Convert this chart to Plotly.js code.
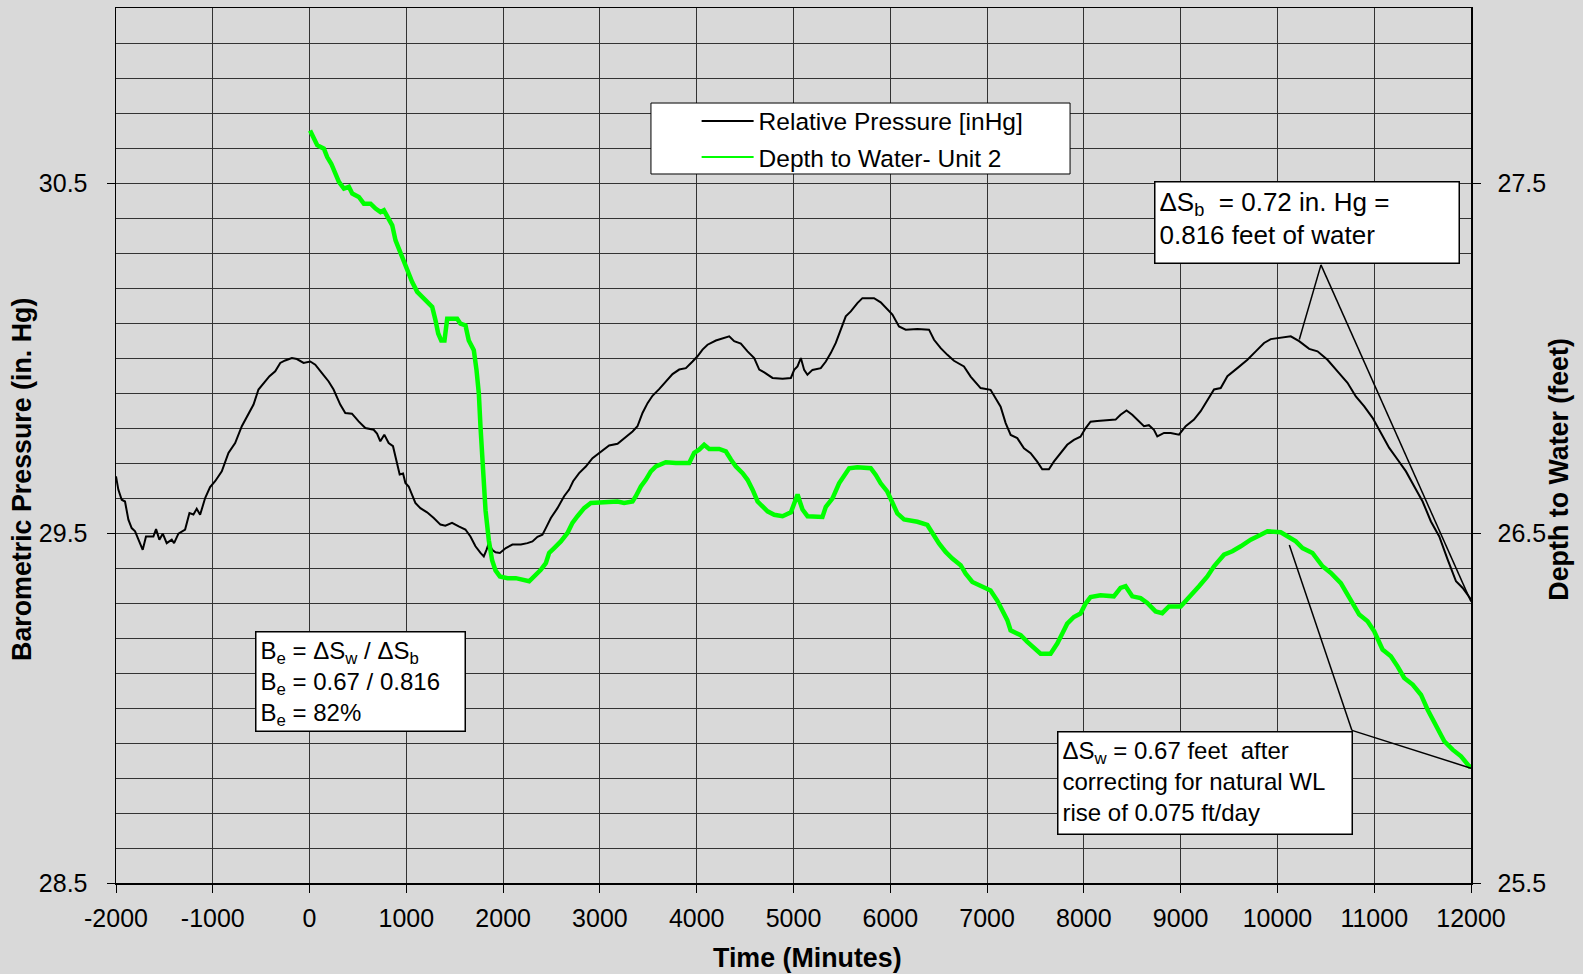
<!DOCTYPE html>
<html>
<head>
<meta charset="utf-8">
<script src="https://cdn.plot.ly/plotly-3.0.1.min.js"></script>
<style>
  html, body { margin: 0; padding: 0; background: #d9d9d9; }
  #chart { width: 1583px; height: 974px; }
</style>
</head>
<body>
<div id="chart"></div>
<script>
// ---- Data ----
const pressureName = "Relative Pressure [inHg]";
const depthName = "Depth to Water- Unit 2";

const xTickVals = [-2000,-1000,0,1000,2000,3000,4000,5000,6000,7000,8000,9000,10000,11000,12000];
const xTickText = ["-2000","-1000","0","1000","2000","3000","4000","5000","6000","7000","8000","9000","10000","11000","12000"];

const pressureTime = [-2000,-1976,-1941,-1907,-1872,-1838,-1803,-1752,-1724,-1690,-1614,-1586,-1552,-1517,-1476,-1424,-1400,-1355,-1286,-1241,-1200,-1166,-1131,-1079,-1028,-976,-907,-838,-769,-700,-631,-579,-528,-476,-414,-355,-303,-252,-183,-131,-62,7,59,128,197,248,317,369,438,507,576,662,697,731,772,817,862,903,931,966,990,1024,1059,1093,1145,1214,1283,1352,1403,1472,1541,1610,1662,1714,1766,1800,1828,1852,1886,1921,1966,2028,2096,2183,2251,2303,2355,2406,2441,2493,2561,2630,2682,2723,2785,2854,2923,2992,3095,3182,3250,3337,3388,3440,3492,3543,3612,3681,3750,3819,3888,3957,4008,4060,4112,4198,4267,4336,4387,4456,4525,4594,4646,4698,4783,4887,4973,5007,5041,5076,5110,5144,5196,5282,5334,5385,5437,5488,5540,5592,5660,5712,5832,5901,5970,6022,6090,6159,6280,6400,6452,6521,6590,6658,6761,6830,6933,7036,7088,7140,7192,7244,7312,7381,7450,7518,7570,7639,7690,7759,7828,7897,7965,8017,8069,8137,8275,8328,8379,8441,8500,8569,8621,8672,8724,8759,8828,8897,8983,9052,9138,9207,9276,9345,9414,9483,9586,9690,9776,9862,9931,10034,10138,10224,10328,10414,10517,10621,10724,10810,10897,10983,11069,11155,11241,11328,11414,11500,11586,11672,11759,11845,11914,12000];

const pressure = [29.662,29.624,29.595,29.590,29.538,29.514,29.505,29.471,29.452,29.490,29.490,29.511,29.481,29.498,29.471,29.481,29.471,29.498,29.510,29.557,29.553,29.569,29.552,29.600,29.631,29.648,29.676,29.729,29.757,29.805,29.843,29.867,29.910,29.927,29.948,29.962,29.986,29.993,30.000,29.997,29.986,29.990,29.981,29.957,29.933,29.910,29.867,29.843,29.841,29.819,29.800,29.795,29.784,29.762,29.781,29.757,29.748,29.700,29.667,29.670,29.643,29.633,29.610,29.586,29.571,29.559,29.543,29.524,29.521,29.529,29.519,29.510,29.490,29.462,29.443,29.433,29.452,29.471,29.452,29.445,29.443,29.457,29.467,29.467,29.471,29.476,29.489,29.495,29.514,29.543,29.571,29.605,29.624,29.648,29.671,29.690,29.714,29.729,29.750,29.755,29.771,29.790,29.805,29.843,29.871,29.892,29.911,29.933,29.954,29.967,29.971,29.990,30.005,30.024,30.038,30.050,30.057,30.062,30.048,30.041,30.019,30.000,29.967,29.959,29.943,29.941,29.943,29.966,29.976,30.000,29.966,29.952,29.966,29.971,29.990,30.014,30.043,30.081,30.119,30.133,30.157,30.171,30.171,30.159,30.140,30.124,30.090,30.081,30.083,30.081,30.052,30.028,30.009,29.992,29.976,29.947,29.914,29.909,29.885,29.861,29.814,29.780,29.771,29.742,29.728,29.704,29.682,29.682,29.704,29.728,29.752,29.766,29.775,29.799,29.818,29.820,29.822,29.824,29.838,29.850,29.838,29.819,29.805,29.808,29.795,29.776,29.786,29.786,29.781,29.805,29.824,29.848,29.881,29.910,29.914,29.948,29.971,29.995,30.019,30.043,30.054,30.057,30.062,30.048,30.026,30.019,29.995,29.962,29.929,29.890,29.862,29.829,29.786,29.743,29.710,29.676,29.633,29.590,29.533,29.490,29.424,29.362,29.343,29.310];

const depthTime = [5,17,45,79,148,182,224,268,303,355,406,441,509,561,630,682,733,768,802,854,888,940,974,1009,1060,1112,1164,1215,1267,1301,1329,1360,1394,1422,1456,1525,1559,1611,1645,1697,1725,1749,1766,1794,1818,1852,1886,1921,1966,2045,2131,2269,2320,2389,2441,2475,2527,2596,2665,2716,2768,2837,2906,2992,3095,3182,3250,3337,3371,3423,3474,3526,3578,3681,3784,3922,3974,4025,4077,4129,4232,4301,4353,4405,4474,4525,4577,4629,4680,4732,4801,4887,4973,5007,5042,5059,5093,5145,5214,5299,5334,5403,5471,5523,5575,5660,5798,5850,5901,5970,6022,6073,6142,6280,6383,6435,6503,6572,6641,6727,6779,6848,6933,7036,7105,7157,7209,7243,7347,7416,7502,7553,7656,7725,7776,7828,7897,7965,8017,8069,8172,8310,8379,8431,8500,8586,8655,8741,8810,8879,9000,9052,9121,9190,9276,9345,9448,9534,9621,9724,9828,9897,10034,10103,10190,10259,10362,10466,10552,10655,10759,10845,10931,11000,11086,11172,11241,11310,11397,11483,11552,11638,11724,11810,11897,11983,12000];

const depth = [27.650,27.643,27.622,27.608,27.598,27.574,27.555,27.522,27.503,27.484,27.489,27.470,27.460,27.441,27.441,27.427,27.417,27.422,27.403,27.379,27.336,27.298,27.279,27.250,27.217,27.189,27.174,27.160,27.146,27.108,27.070,27.050,27.050,27.112,27.112,27.112,27.098,27.093,27.050,27.022,26.965,26.898,26.803,26.660,26.565,26.479,26.422,26.393,26.376,26.371,26.371,26.362,26.376,26.395,26.414,26.443,26.457,26.476,26.500,26.529,26.548,26.571,26.586,26.588,26.590,26.590,26.586,26.590,26.605,26.633,26.652,26.676,26.690,26.702,26.700,26.700,26.729,26.738,26.752,26.740,26.740,26.733,26.710,26.690,26.671,26.652,26.624,26.590,26.576,26.562,26.552,26.548,26.559,26.586,26.610,26.595,26.567,26.548,26.546,26.546,26.575,26.599,26.642,26.661,26.685,26.688,26.685,26.666,26.642,26.618,26.589,26.556,26.539,26.532,26.523,26.499,26.470,26.446,26.427,26.408,26.384,26.360,26.350,26.336,26.307,26.279,26.251,26.222,26.208,26.189,26.169,26.155,26.155,26.184,26.212,26.241,26.260,26.270,26.298,26.317,26.322,26.319,26.343,26.348,26.319,26.314,26.300,26.276,26.271,26.290,26.290,26.305,26.329,26.348,26.376,26.405,26.438,26.448,26.462,26.481,26.495,26.505,26.502,26.490,26.476,26.457,26.443,26.405,26.386,26.357,26.310,26.267,26.248,26.219,26.167,26.148,26.119,26.086,26.067,26.038,25.995,25.952,25.905,25.881,25.862,25.833,25.833];

const xTitle = "<b>Time (Minutes)</b>";
const yTitle = "<b>Barometric Pressure (in. Hg)</b>";
const y2Title = "<b>Depth to Water (feet)</b>";

const noteSb = "ΔS<sub>b</sub>&nbsp; = 0.72 in. Hg =<br>0.816 feet of water";
const noteBe = "B<sub>e</sub> = ΔS<sub>w</sub> / ΔS<sub>b</sub><br>B<sub>e</sub> = 0.67 / 0.816<br>B<sub>e</sub> = 82%";
const noteSw = "ΔS<sub>w</sub> = 0.67 feet&nbsp; after<br>correcting for natural WL<br>rise of 0.075 ft/day";

// ---- Styling ----
const FONT = "Liberation Sans, Arial, sans-serif";
const BG = "#d9d9d9";
const GRID = "#333333";
const GREEN = "#00ff00";

const traces = [
  {
    x: pressureTime, y: pressure, name: pressureName, type: "scatter", mode: "lines",
    line: { color: "#000000", width: 2 }, yaxis: "y", legend: "legend"
  },
  {
    x: depthTime, y: depth, name: depthName, type: "scatter", mode: "lines",
    line: { color: GREEN, width: 4.5 }, yaxis: "y2", showlegend: false
  },
  // legend-only entry (thin line sample, as in the reference legend)
  {
    x: [null], y: [null], name: depthName, type: "scatter", mode: "lines",
    line: { color: GREEN, width: 2 }, yaxis: "y2", legend: "legend2"
  }
];

const legendCommon = {
  bgcolor: "rgba(0,0,0,0)", borderwidth: 0,
  font: { family: FONT, size: 24.5, color: "#000" },
  xanchor: "left", yanchor: "middle", itemwidth: 52
};

const titleFont = { family: FONT, size: 26.8, color: "#000" };
const tickFont = { family: FONT, size: 25, color: "#000" };

const layout = {
  width: 1583, height: 974,
  paper_bgcolor: BG, plot_bgcolor: BG,
  margin: { l: 116, r: 112, t: 8, b: 91, pad: 0 },
  font: { family: FONT, color: "#000" },
  showlegend: true,
  legend: Object.assign({ x: 0.4285, y: 0.8709 }, legendCommon),
  legend2: Object.assign({ x: 0.4285, y: 0.8297 }, legendCommon),
  xaxis: {
    range: [-2000, 12000], tickmode: "array", tickvals: xTickVals, ticktext: xTickText,
    ticks: "outside", ticklen: 8, tickcolor: "#000", tickwidth: 1,
    showgrid: true, gridcolor: GRID, gridwidth: 1,
    showline: true, linecolor: "#000", linewidth: 1.5, mirror: true,
    zeroline: false,
    tickfont: tickFont,
    ticklabelstandoff: 4
  },
  yaxis: {
    range: [28.5, 31], tick0: 28.5, dtick: 1,
    ticks: "outside", ticklen: 8, tickcolor: "#000", tickwidth: 1,
    showgrid: true, gridcolor: GRID, gridwidth: 1,
    minor: { dtick: 0.1, showgrid: true, gridcolor: GRID, gridwidth: 1, ticks: "" },
    showline: true, linecolor: "#000", linewidth: 1.5,
    zeroline: false,
    tickfont: tickFont,
    ticklabelstandoff: 14
  },
  yaxis2: {
    overlaying: "y", side: "right",
    range: [25.5, 28], tick0: 25.5, dtick: 1,
    ticks: "outside", ticklen: 8, tickcolor: "#000", tickwidth: 1,
    showgrid: false, zeroline: false,
    showline: true, linecolor: "#000", linewidth: 1.5,
    tickfont: tickFont,
    ticklabelstandoff: 12
  },
  shapes: [
    // legend box
    { type: "rect", xref: "paper", yref: "paper", x0: 0.3948, x1: 0.7041, y0: 0.8103, y1: 0.8914,
      fillcolor: "#ffffff", line: { color: "#000", width: 1 }, layer: "above" },
    // leader lines for ΔSb note
    { type: "line", xref: "x", yref: "y", x0: 10450, y0: 30.266, x1: 10226, y1: 30.053,
      line: { color: "#000", width: 1.5 }, layer: "above" },
    { type: "line", xref: "x", yref: "y", x0: 10450, y0: 30.266, x1: 12000, y1: 29.304,
      line: { color: "#000", width: 1.5 }, layer: "above" },
    // leader lines for ΔSw note
    { type: "line", xref: "x", yref: "y", x0: 10770, y0: 28.936, x1: 10123, y1: 29.466,
      line: { color: "#000", width: 1.5 }, layer: "above" },
    { type: "line", xref: "x", yref: "y", x0: 10770, y0: 28.936, x1: 12000, y1: 28.828,
      line: { color: "#000", width: 1.5 }, layer: "above" }
  ],
  annotations: [
    // axis titles
    { text: xTitle, xref: "paper", yref: "paper", x: 0.5103, y: -0.0857,
      xanchor: "center", yanchor: "middle", showarrow: false, font: titleFont },
    { text: yTitle, xref: "paper", yref: "paper", x: -0.0694, y: 0.4617, textangle: -90,
      xanchor: "center", yanchor: "middle", showarrow: false, font: titleFont },
    { text: y2Title, xref: "paper", yref: "paper", x: 1.0652, y: 0.4728, textangle: -90,
      xanchor: "center", yanchor: "middle", showarrow: false, font: titleFont },
    // text boxes
    { text: noteSb, xref: "x", yref: "y", x: 8725, y: 30.506, xanchor: "left", yanchor: "top",
      showarrow: false, align: "left", valign: "top", width: 295, height: 72,
      bgcolor: "#ffffff", bordercolor: "#000", borderwidth: 1.5, borderpad: 4,
      font: { family: FONT, size: 26, color: "#000" } },
    { text: noteBe, xref: "x", yref: "y", x: -564, y: 29.22, xanchor: "left", yanchor: "top",
      showarrow: false, align: "left", valign: "top", width: 200, height: 90,
      bgcolor: "#ffffff", bordercolor: "#000", borderwidth: 1.5, borderpad: 4,
      font: { family: FONT, size: 24, color: "#000" } },
    { text: noteSw, xref: "x", yref: "y", x: 7722, y: 28.934, xanchor: "left", yanchor: "top",
      showarrow: false, align: "left", valign: "top", width: 285, height: 93,
      bgcolor: "#ffffff", bordercolor: "#000", borderwidth: 1.5, borderpad: 4,
      font: { family: FONT, size: 24, color: "#000" } }
  ]
};

Plotly.newPlot("chart", traces, layout, { displayModeBar: false, staticPlot: true });
</script>
</body>
</html>
